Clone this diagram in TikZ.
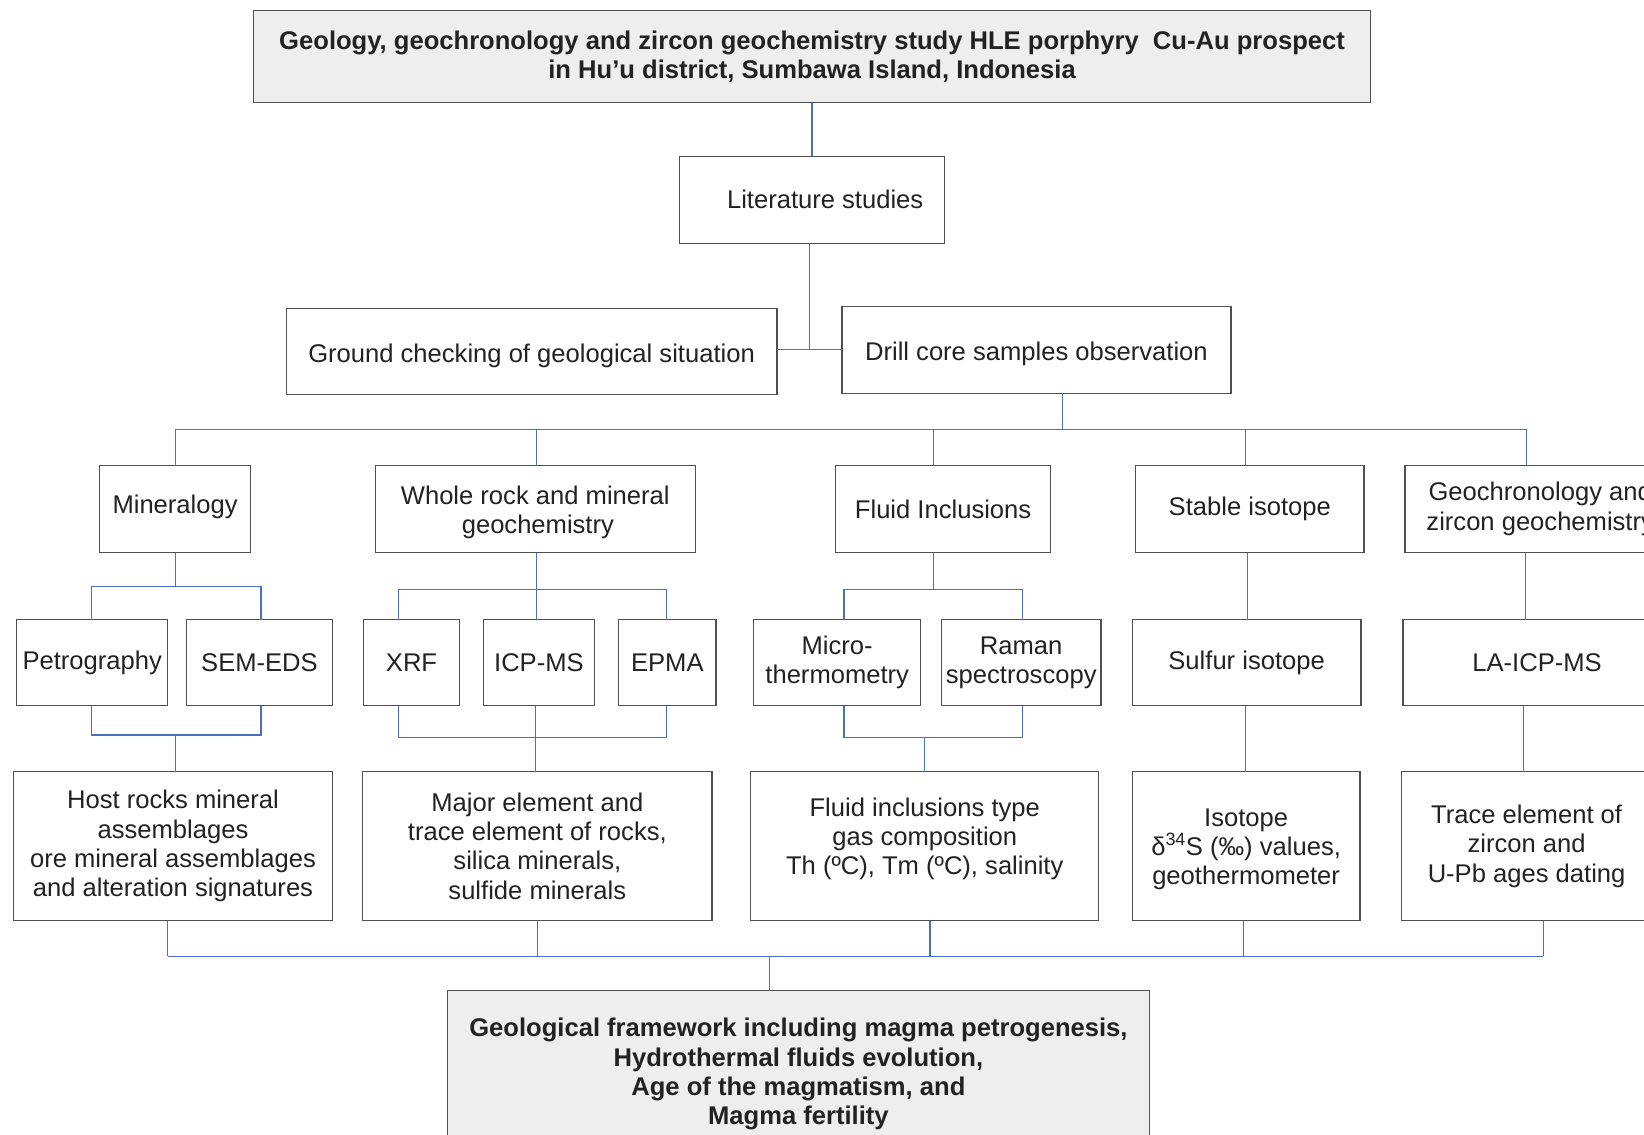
\documentclass[tikz,border=0pt]{standalone}
\usepackage{fontspec}
\setmainfont{Liberation Sans}
\definecolor{boxc}{HTML}{505050}
\definecolor{linec}{HTML}{4A6FC4}
\definecolor{fillc}{HTML}{EEEEEE}
\definecolor{txtc}{HTML}{222222}
\newcommand\mybox[7][]{\node[box,#1,minimum width={(#5-#3)*1pt},minimum height={(#6-#4)*1pt}] (#2) at ({(#3+#5)/2},{(#4+#6)/2}) {#7};}
\newcommand\rb[2]{\raisebox{#1}[\height][\depth]{#2}}
\begin{document}
\begin{tikzpicture}[x=1pt,y=-1pt,
  box/.style={draw=boxc, line width=1.2pt, inner sep=0pt, outer sep=0pt, align=center,
    text=txtc, font=\fontsize{24.4}{28}\selectfont},
  graybox/.style={fill=fillc, font=\fontsize{24.4}{28}\selectfont\bfseries},
  conn/.style={draw=linec, line width=1.1pt}]
\useasboundingbox (0,0) rectangle (1568,1082);
\fill[white] (0,0) rectangle (1568,1082);

% boxes
\mybox[graybox]{title}{242}{10}{1307}{98}{Geology, geochronology and zircon geochemistry study HLE porphyry \ Cu-Au prospect\\in Hu’u district, Sumbawa Island, Indonesia}
\mybox{lit}{648}{149}{901}{232}{\hspace*{25pt}Literature studies}
\mybox{ground}{273}{294}{741}{376}{\rb{-4pt}{Ground checking of geological situation}}
\mybox{drill}{803}{292}{1174}{375}{\rb{-4pt}{Drill core samples observation}}

\mybox{mineral}{95}{444}{239}{527}{\rb{2pt}{Mineralogy}}
\mybox{whole}{358}{444}{663}{527}{\rb{-3pt}{\parbox{300pt}{\centering Whole rock and mineral\\\hspace*{5pt}geochemistry}}}
\mybox{fluid}{797}{444}{1002}{527}{Fluid Inclusions}
\mybox{stable}{1083}{444}{1301}{527}{Stable isotope}
\mybox{geochron}{1340}{444}{1598}{527}{Geochronology and\\zircon geochemistry}

\mybox{petro}{16}{591}{160}{673}{Petrography}
\mybox{sem}{178}{591}{317}{673}{SEM-EDS}
\mybox{xrf}{347}{591}{438}{673}{XRF}
\mybox{icp}{461}{591}{567}{673}{ICP-MS}
\mybox{epma}{590}{591}{683}{673}{EPMA}
\mybox{micro}{719}{591}{878}{673}{Micro-\\thermometry}
\mybox{raman}{898}{591}{1050}{673}{Raman\\spectroscopy}
\mybox{sulfur}{1080}{591}{1298}{673}{Sulfur isotope}
\mybox{la}{1338}{591}{1594}{673}{LA-ICP-MS}

\mybox{host}{13}{736}{317}{878}{Host rocks mineral\\assemblages\\ore mineral assemblages\\and alteration signatures}
\mybox{major}{346}{736}{679}{878}{Major element and\\trace element of rocks,\\silica minerals,\\sulfide minerals}
\mybox{ftype}{716}{736}{1048}{878}{\rb{7pt}{\parbox{320pt}{\centering Fluid inclusions type\\gas composition\\Th (ºC), Tm (ºC), salinity}}}
\mybox{iso}{1080}{736}{1297}{878}{\rb{-3pt}{\parbox{210pt}{\centering Isotope\\δ\textsuperscript{34}S (‰) values,\\geothermometer}}}
\mybox{trace}{1337}{736}{1575}{878}{\parbox{230pt}{\centering Trace element of\\zircon and\\U-Pb ages dating}}

\mybox[graybox]{final}{427}{945}{1096}{1100}{\rb{-2pt}{\parbox{660pt}{\centering Geological framework including magma petrogenesis,\\Hydrothermal fluids evolution,\\Age of the magmatism, and\\Magma fertility}}}

% connectors top
\draw[conn] (title.south -| lit.north) -- (lit.north);
\coordinate (j0) at (772,333);
\draw[conn] (j0 |- lit.south) -- (j0);
\draw[conn] (ground.east |- j0) -- (drill.west |- j0);

% bus to row 2
\coordinate (b0) at (1013,410);
\coordinate (b1) at (167,410);
\coordinate (b2) at (512,410);
\coordinate (b3) at (890,410);
\coordinate (b4) at (1188,410);
\coordinate (b5) at (1456,410);
\draw[conn] (b0 |- drill.south) -- (b0);
\draw[conn] (b1) -- (b5);
\foreach \c/\n in {b1/mineral,b2/whole,b3/fluid,b4/stable,b5/geochron}
  \draw[conn] (\c) -- (\c |- \n.north);

% row 2 -> row 3
\coordinate (m0) at (167,559);
\coordinate (m1) at (87,559);
\coordinate (m2) at (249,559);
\draw[conn] (m0 |- mineral.south) -- (m0);
\draw[conn] (m1 |- petro.north) -- (m1) -- (m2) -- (m2 |- sem.north);

\coordinate (w0) at (512,562);
\coordinate (w1) at (380,562);
\coordinate (w2) at (636,562);
\draw[conn] (w0 |- whole.south) -- (w0 |- icp.north);
\draw[conn] (w1 |- xrf.north) -- (w1) -- (w2) -- (w2 |- epma.north);

\coordinate (f0) at (890,562);
\coordinate (f1) at (805,562);
\coordinate (f2) at (975,562);
\draw[conn] (f0 |- fluid.south) -- (f0);
\draw[conn] (f1 |- micro.north) -- (f1) -- (f2) -- (f2 |- raman.north);

\coordinate (s0) at (1190,560);
\draw[conn] (s0 |- stable.south) -- (s0 |- sulfur.north);
\coordinate (g0) at (1455,560);
\draw[conn] (g0 |- geochron.south) -- (g0 |- la.north);

% row 3 -> row 4
\coordinate (p0) at (167,701);
\coordinate (p1) at (87,701);
\coordinate (p2) at (249,701);
\draw[conn] (p1 |- petro.south) -- (p1) -- (p2) -- (p2 |- sem.south);
\draw[conn] (p0) -- (p0 |- host.north);

\coordinate (x0) at (511,703);
\coordinate (x1) at (380,703);
\coordinate (x2) at (636,703);
\draw[conn] (x1 |- xrf.south) -- (x1) -- (x2) -- (x2 |- epma.south);
\draw[conn] (x0 |- icp.south) -- (x0 |- major.north);

\coordinate (r0) at (882,703);
\coordinate (r1) at (805,703);
\coordinate (r2) at (975,703);
\draw[conn] (r1 |- micro.south) -- (r1) -- (r2) -- (r2 |- raman.south);
\draw[conn] (r0) -- (r0 |- ftype.north);

\coordinate (u0) at (1188,700);
\draw[conn] (u0 |- sulfur.south) -- (u0 |- iso.north);
\coordinate (l0) at (1453,700);
\draw[conn] (l0 |- la.south) -- (l0 |- trace.north);

% bottom bus
\coordinate (e0) at (734,912);
\coordinate (e1) at (160,912);
\coordinate (e2) at (513,912);
\coordinate (e3) at (887,912);
\coordinate (e4) at (1186,912);
\coordinate (e5) at (1472,912);
\draw[conn] (e1) -- (e5);
\foreach \c/\n in {e1/host,e2/major,e3/ftype,e4/iso,e5/trace}
  \draw[conn] (\c |- \n.south) -- (\c);
\draw[conn] (e0) -- (e0 |- final.north);
\end{tikzpicture}
\end{document}
